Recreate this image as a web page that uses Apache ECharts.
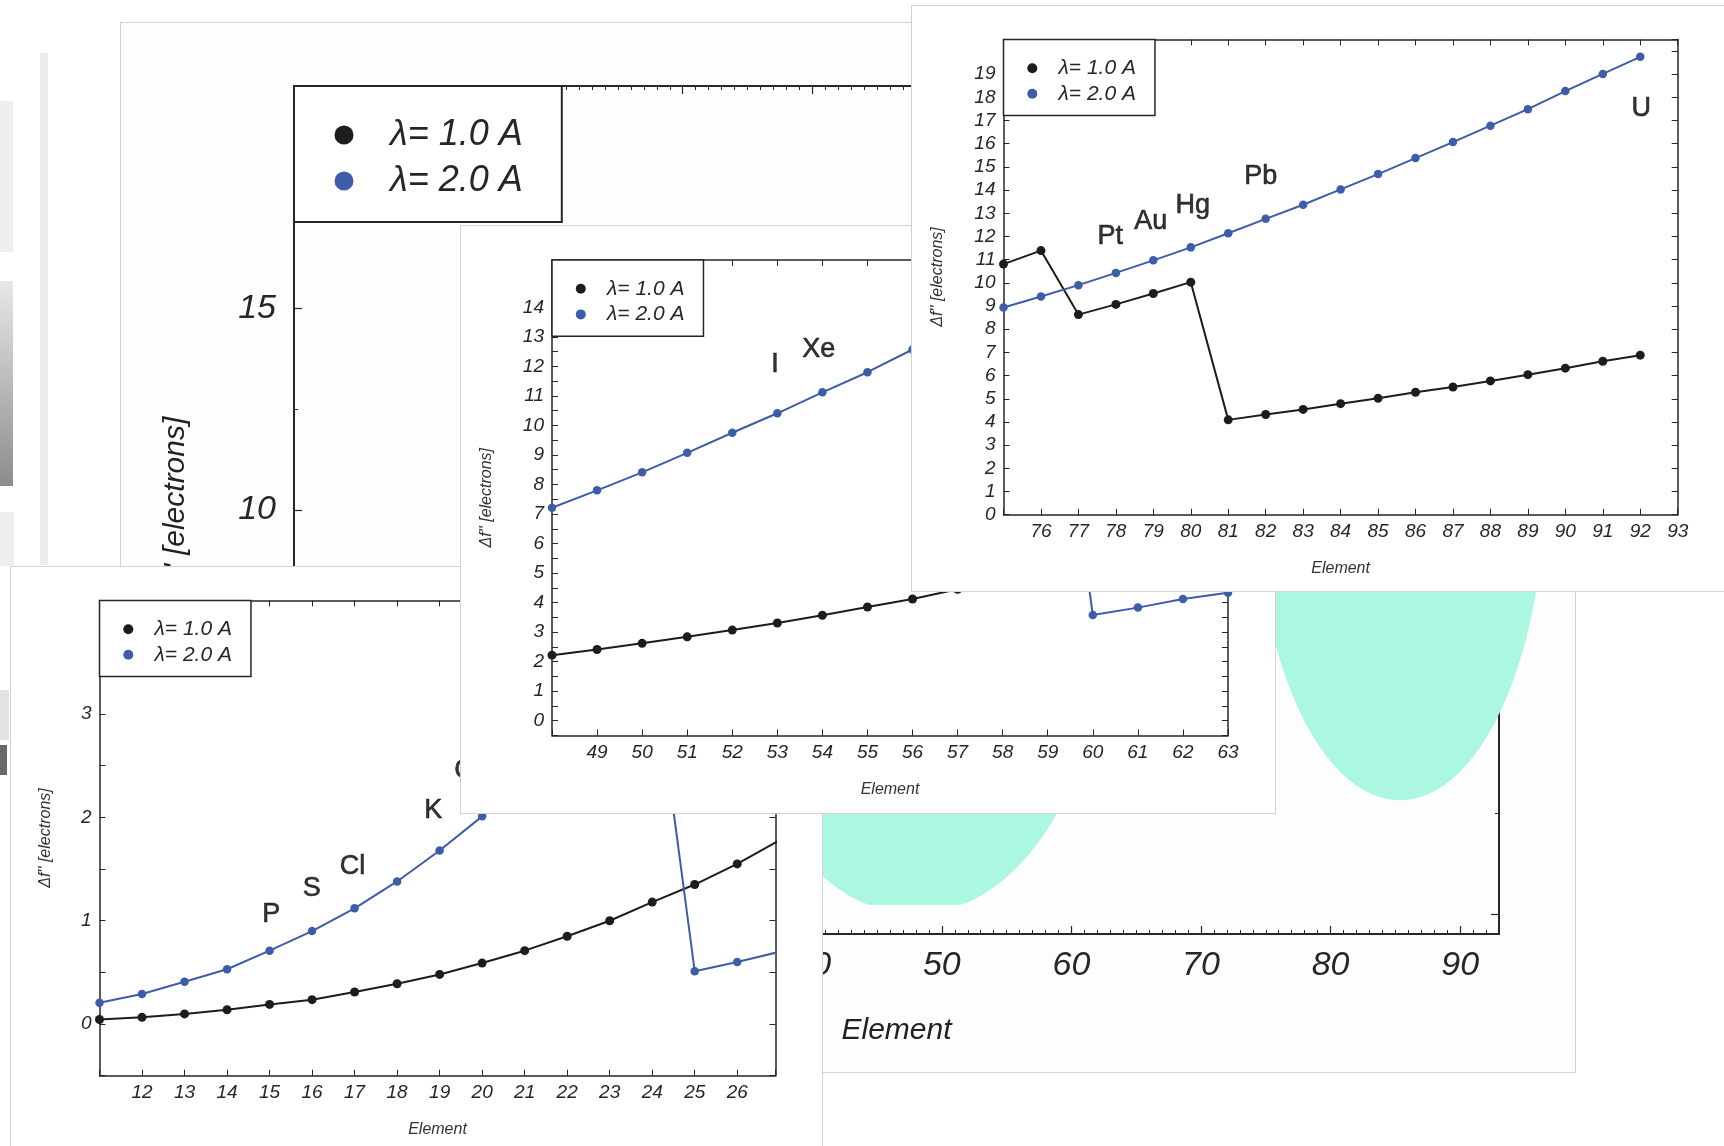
<!DOCTYPE html>
<html>
<head>
<meta charset="utf-8">
<script src="https://cdn.jsdelivr.net/npm/echarts@6/dist/echarts.min.js"></script>
<style>
  html, body { margin: 0; padding: 0; }
  body { width: 1724px; height: 1146px; overflow: hidden; position: relative; background: #fff; }
  .deco { position: absolute; }
  .panel { position: absolute; background: #fff; border: 1px solid #d2d2d2; box-sizing: border-box; overflow: hidden; }
  .chart { width: 100%; height: 100%; }
</style>
</head>
<body>
<!-- bits of other pictures peeking out at the left edge -->
<div class="deco" style="left:40px;top:53px;width:8px;height:512px;background:#ececec"></div>
<div class="deco" style="left:0;top:101px;width:13px;height:151px;background:#efefef"></div>
<div class="deco" style="left:0;top:281px;width:13px;height:205px;background:linear-gradient(#e8e8e8,#8c8c8c)"></div>
<div class="deco" style="left:0;top:512px;width:14px;height:54px;background:#eeeeee"></div>
<div class="deco" style="left:0;top:690px;width:9px;height:50px;background:#e2e2e2"></div>
<div class="deco" style="left:0;top:745px;width:7px;height:30px;background:#6a6a6a"></div>

<div class="panel" style="left:120px;top:22px;width:1456px;height:1051px;background:#fdfdfd"><div id="chartA" class="chart"></div></div>
<div class="panel" style="left:10px;top:566px;width:813px;height:600px;"><div id="chartD" class="chart"></div></div>
<div class="panel" style="left:460px;top:225px;width:816px;height:589px;"><div id="chartB" class="chart"></div></div>
<div class="panel" style="left:911px;top:5px;width:820px;height:587px;"><div id="chartC" class="chart"></div></div>

<script>
// ---- light elements 11..27
const zD = [11, 12, 13, 14, 15, 16, 17, 18, 19, 20, 21, 22, 23, 24, 25, 26, 27];
const f1D = [0.044, 0.065, 0.098, 0.138, 0.19, 0.236, 0.31, 0.39, 0.48, 0.59, 0.71, 0.85, 1.0, 1.18, 1.35, 1.55, 1.78];
const f2D = [0.207, 0.29, 0.41, 0.53, 0.71, 0.9, 1.12, 1.38, 1.68, 2.01, 2.37, 2.76, 3.17, 3.62, 0.51, 0.6, 0.7];
const xLabelsD = [12, 13, 14, 15, 16, 17, 18, 19, 20, 21, 22, 23, 24, 25, 26];
const yLabelsD = [0, 1, 2, 3];
const tagsD = ['P', 'S', 'Cl', 'K', 'Ca'];
const tagXD = [15.04, 15.99, 16.95, 18.85, 19.75];
const tagYD = [1.06, 1.31, 1.52, 2.07, 2.45];

// ---- elements 48..63
const zB = [48, 49, 50, 51, 52, 53, 54, 55, 56, 57, 58, 59, 60, 61, 62, 63];
const f1B = [2.22, 2.41, 2.62, 2.84, 3.07, 3.31, 3.57, 3.85, 4.12, 4.45, 4.78, 5.1, 5.45, 5.8, 6.15, 6.5];
const f2B = [7.21, 7.8, 8.41, 9.07, 9.75, 10.41, 11.12, 11.8, 12.57, 13.35, 14.15, 14.95, 3.58, 3.83, 4.12, 4.33];
const xLabelsB = [49, 50, 51, 52, 53, 54, 55, 56, 57, 58, 59, 60, 61, 62, 63];
const yLabelsB = [0, 1, 2, 3, 4, 5, 6, 7, 8, 9, 10, 11, 12, 13, 14];
const tagsB = ['I', 'Xe'];
const tagXB = [52.95, 53.92];
const tagYB = [12.05, 12.57];

// ---- heavy elements 75..92
const zC = [75, 76, 77, 78, 79, 80, 81, 82, 83, 84, 85, 86, 87, 88, 89, 90, 91, 92];
const f1C = [10.81, 11.39, 8.63, 9.07, 9.54, 10.03, 4.09, 4.32, 4.54, 4.79, 5.02, 5.28, 5.51, 5.77, 6.04, 6.32, 6.62, 6.88];
const f2C = [8.94, 9.41, 9.9, 10.43, 10.97, 11.53, 12.14, 12.76, 13.37, 14.03, 14.69, 15.38, 16.07, 16.78, 17.49, 18.27, 19.01, 19.75];
const xLabelsC = [76, 77, 78, 79, 80, 81, 82, 83, 84, 85, 86, 87, 88, 89, 90, 91, 92, 93];
const yLabelsC = [0, 1, 2, 3, 4, 5, 6, 7, 8, 9, 10, 11, 12, 13, 14, 15, 16, 17, 18, 19];
const tagsC = ['Pt', 'Au', 'Hg', 'Pb', 'U'];
const tagXC = [77.85, 78.93, 80.05, 81.87, 92.03];
const tagYC = [11.98, 12.63, 13.33, 14.58, 17.5];

// ---- big background plot (its curves are covered by the mint blobs)
const xMajorA = [0, 10, 20, 30, 40, 50, 60, 70, 80, 90];
const xLabelsA = [10, 20, 30, 40, 50, 60, 70, 80, 90];
const xMinorA = [];
for (let z = 1; z <= 93; z++) if (z % 10 !== 0) xMinorA.push(z);
const yMajorA = [0, 5, 10, 15, 20];
const yMinorA = [2.5, 7.5, 12.5, 17.5];
const yLabelsA = [0, 5, 10, 15];
// blobs: centre, half sizes, flat floor (axis units)
const blobX = [47.93, 85.36];
const blobY = [7.42, 10.73];
const blobRx = [14.66, 11.19];
const blobRy = [7.43, 7.92];
const blobFloor = [0.22, -0.5];

const FONT = "'Liberation Sans', Arial, sans-serif";
const INK = '#262626';
const BLACK = '#1c1c1c';
const BLUE = '#3d5da9';
const MINT = '#abf7e1';
const NAME1 = 'λ= 1.0 A';
const NAME2 = 'λ= 2.0 A';
const YNAME = "Δf'' [electrons]";

const pick = (arr) => (v) => (arr.includes(+(+v).toFixed(2)) ? String(v) : '');

function lineSeries(name, xs, ys, color, size) {
    return {
        type: 'line',
        name: name,
        data: xs.map((x, i) => [x, ys[i]]),
        symbol: 'circle',
        symbolSize: size,
        lineStyle: { color: color, width: 2 },
        itemStyle: { color: color },
        clip: true,
        z: 3,
    };
}

function tagSeries(names, xs, ys) {
    return {
        type: 'scatter',
        symbolSize: 0,
        silent: true,
        z: 5,
        data: names.map((n, i) => ({ name: n, value: [xs[i], ys[i]] })),
        label: {
            show: true,
            position: 'inside',
            formatter: '{b}',
            fontFamily: FONT,
            fontSize: 27,
            color: '#000',
            textBorderColor: '#000',
            textBorderWidth: 0.6,
        },
    };
}

// legend box: dot, then a gap made with rich-text padding
function legendBox(left, top, dot, fontSize, rowH, pad, textGap, borderWidth) {
    const txt = { fontFamily: FONT, fontSize: fontSize, fontStyle: 'italic', color: INK, lineHeight: rowH };
    return {
        data: [NAME1, NAME2],
        orient: 'vertical',
        left: left,
        top: top,
        icon: 'circle',
        itemWidth: dot,
        itemHeight: dot,
        itemGap: 0,
        padding: pad,
        borderColor: INK,
        borderWidth: borderWidth,
        backgroundColor: '#fff',
        selectedMode: false,
        formatter: (name) => '{t|' + name + '}',
        textStyle: Object.assign({}, txt, { rich: { t: Object.assign({}, txt, { padding: [0, 0, 0, textGap] }) } }),
    };
}

// one of the three small plots
function smallPanel(id, cfg) {
    const chart = echarts.init(document.getElementById(id));
    const line = { onZero: false, lineStyle: { color: INK, width: 1.5 } };
    const tick = { inside: true, length: 6, lineStyle: { color: INK, width: 1 } };
    const lab = { fontFamily: FONT, fontSize: 19, fontStyle: 'italic', color: INK, margin: 8 };
    const nameStyle = { fontFamily: FONT, fontSize: 16, fontStyle: 'italic', color: '#333' };
    const xBase = { type: 'value', min: cfg.x[0], max: cfg.x[1], interval: cfg.x[2], axisLine: line, axisTick: tick, splitLine: { show: false } };
    const yBase = { type: 'value', min: cfg.y[0], max: cfg.y[1], interval: cfg.y[2], axisLine: line, axisTick: tick, splitLine: { show: false } };
    chart.setOption({
        animation: false,
        grid: { left: cfg.grid[0], top: cfg.grid[1], width: cfg.grid[2], height: cfg.grid[3] },
        xAxis: [
            Object.assign({}, xBase, {
                position: 'bottom',
                axisLabel: Object.assign({}, lab, { formatter: pick(cfg.xLabels) }),
                name: 'Element', nameLocation: 'middle', nameGap: 46, nameTextStyle: nameStyle,
            }),
            Object.assign({}, xBase, { position: 'top', axisLabel: { show: false } }),
        ],
        yAxis: [
            Object.assign({}, yBase, {
                position: 'left',
                axisLabel: Object.assign({}, lab, { formatter: pick(cfg.yLabels) }),
                name: YNAME, nameLocation: 'middle', nameRotate: 90, nameGap: cfg.yGap, nameTextStyle: nameStyle,
            }),
            Object.assign({}, yBase, { position: 'right', axisLabel: { show: false } }),
        ],
        legend: legendBox(cfg.grid[0], cfg.grid[1], 10, 21, 25.6, [16, 19, 9, 23.8], 16.2, 1.5),
        series: [
            lineSeries(NAME1, cfg.z, cfg.f1, BLACK, 9),
            lineSeries(NAME2, cfg.z, cfg.f2, BLUE, 8.5),
            tagSeries(cfg.tags, cfg.tagX, cfg.tagY),
        ],
    });
}

// background plot with the two mint blobs
function bigPanel() {
    const chart = echarts.init(document.getElementById('chartA'));
    const line = { onZero: false, lineStyle: { color: INK, width: 2 } };
    const noLine = { show: false, onZero: false };
    const major = (vals) => ({ inside: true, length: 8, customValues: vals, lineStyle: { color: INK, width: 1.2 } });
    const minor = (vals) => ({ inside: true, length: 4, customValues: vals, lineStyle: { color: INK, width: 1 } });
    const lab = { fontFamily: FONT, fontSize: 34, fontStyle: 'italic', color: INK };
    const nameStyle = { fontFamily: FONT, fontSize: 30, fontStyle: 'italic', color: '#222' };
    const xb = { type: 'value', min: 0, max: 93, splitLine: { show: false } };
    const yb = { type: 'value', min: -0.5, max: 20.5, splitLine: { show: false } };
    chart.setOption({
        animation: false,
        grid: { left: 173, top: 63, width: 1205, height: 848 },
        xAxis: [
            Object.assign({}, xb, {
                position: 'bottom', axisLine: line, axisTick: major(xMajorA),
                axisLabel: Object.assign({}, lab, { customValues: xLabelsA, margin: 15 }),
                name: 'Element', nameLocation: 'middle', nameGap: 82, nameTextStyle: nameStyle,
            }),
            Object.assign({}, xb, { position: 'bottom', axisLine: noLine, axisTick: minor(xMinorA), axisLabel: { show: false } }),
            Object.assign({}, xb, { position: 'top', axisLine: line, axisTick: major(xMajorA), axisLabel: { show: false } }),
            Object.assign({}, xb, { position: 'top', axisLine: noLine, axisTick: minor(xMinorA), axisLabel: { show: false } }),
        ],
        yAxis: [
            Object.assign({}, yb, {
                position: 'left', axisLine: line, axisTick: major(yMajorA),
                axisLabel: Object.assign({}, lab, { customValues: yLabelsA, margin: 18 }),
                name: YNAME, nameLocation: 'middle', nameRotate: 90, nameGap: 103, nameTextStyle: nameStyle,
            }),
            Object.assign({}, yb, { position: 'left', axisLine: noLine, axisTick: minor(yMinorA), axisLabel: { show: false } }),
            Object.assign({}, yb, { position: 'right', axisLine: line, axisTick: major(yMajorA), axisLabel: { show: false } }),
            Object.assign({}, yb, { position: 'right', axisLine: noLine, axisTick: minor(yMinorA), axisLabel: { show: false } }),
        ],
        legend: legendBox(173, 63, 19, 36, 46, [26, 39, 18, 40.5], 31.5, 2),
        series: [
            { type: 'line', name: NAME1, data: [], itemStyle: { color: BLACK }, lineStyle: { color: BLACK } },
            { type: 'line', name: NAME2, data: [], itemStyle: { color: BLUE }, lineStyle: { color: BLUE } },
            {
                type: 'custom',
                silent: true,
                z: 6,
                clip: false,
                data: blobX.map((x, i) => [x, blobY[i], blobRx[i], blobRy[i], blobFloor[i]]),
                renderItem: function (params, api) {
                    const cx = api.value(0), cy = api.value(1);
                    const rx = api.value(2), ry = api.value(3), floor = api.value(4);
                    const pts = [];
                    for (let k = 0; k < 160; k++) {
                        const t = (k / 160) * Math.PI * 2;
                        pts.push(api.coord([cx + rx * Math.cos(t), Math.max(floor, cy + ry * Math.sin(t))]));
                    }
                    return { type: 'polygon', shape: { points: pts }, style: { fill: MINT } };
                },
            },
        ],
    });
}

bigPanel();

smallPanel('chartD', {
    grid: [88.5, 33.4, 676, 475.3],
    x: [11, 26.9, 1], y: [-0.5, 4.1, 0.5],
    xLabels: xLabelsD, yLabels: yLabelsD, yGap: 46,
    z: zD, f1: f1D, f2: f2D,
    tags: tagsD, tagX: tagXD, tagY: tagYD,
});

smallPanel('chartB', {
    grid: [91, 34, 676, 475.5],
    x: [48, 63, 1], y: [-0.5, 15.6, 0.5],
    xLabels: xLabelsB, yLabels: yLabelsB, yGap: 57,
    z: zB, f1: f1B, f2: f2B,
    tags: tagsB, tagX: tagXB, tagY: tagYB,
});

smallPanel('chartC', {
    grid: [91.5, 33.4, 674.2, 475.3],
    x: [75, 93, 1], y: [0, 20.5, 1],
    xLabels: xLabelsC, yLabels: yLabelsC, yGap: 58,
    z: zC, f1: f1C, f2: f2C,
    tags: tagsC, tagX: tagXC, tagY: tagYC,
});
</script>
</body>
</html>
